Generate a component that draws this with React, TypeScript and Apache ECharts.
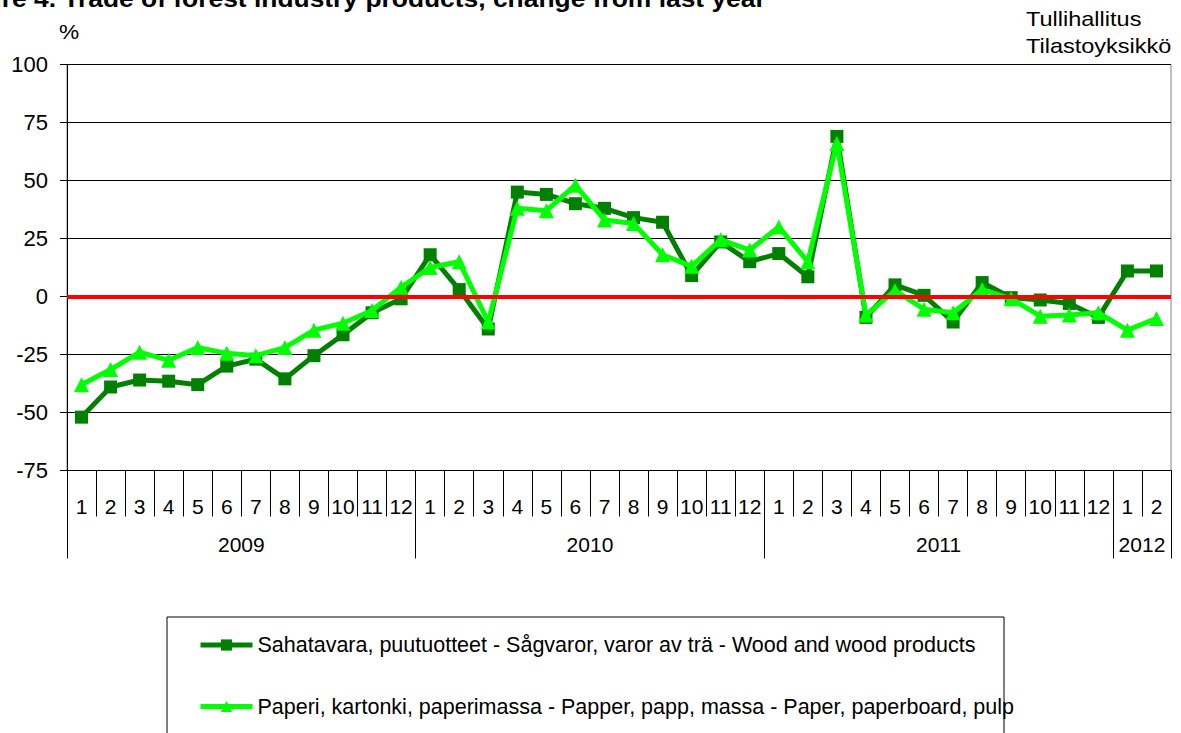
import React, { useEffect, useRef } from "react";
import * as echarts from "echarts";

const months: string[] = [
  "1","2","3","4","5","6","7","8","9","10","11","12",
  "1","2","3","4","5","6","7","8","9","10","11","12",
  "1","2","3","4","5","6","7","8","9","10","11","12",
  "1","2",
];

const yearLabels: string[] = ["2009", "2010", "2011", "2012"];
const yearStart: number[] = [0, 12, 24, 36];
const yearLength: number[] = [12, 12, 12, 2];

const woodName = "Sahatavara, puutuotteet - Sågvaror, varor av trä - Wood and wood products";
const paperName = "Paperi, kartonki, paperimassa - Papper, papp, massa - Paper, paperboard, pulp";

const woodValues: number[] = [
  -52, -39, -36, -36.5, -38, -30, -27, -35.5, -25.5, -16.5, -7, -1,
  18, 3, -14, 45, 44, 40, 38, 34, 32, 9, 23.5, 15,
  18.5, 8.5, 69, -9, 5, 0.5, -11, 6, -0.5, -1.5, -3, -9,
  11, 11,
];

const paperValues: number[] = [
  -38, -31.5, -24, -27.5, -22, -24.5, -25.5, -22, -14.5, -11.5, -6, 4,
  12.5, 15, -11, 38, 37, 48, 33, 31.5, 18, 13, 24.5, 20,
  30, 15, 66, -8, 2.5, -5.5, -7, 3, -1, -8.5, -8, -7,
  -14.5, -9.5,
];

const yTicks = { min: -75, max: 100, interval: 25 };

const FONT = "'Liberation Sans', Arial, Helvetica, sans-serif";

export default function App() {
  const ref = useRef<HTMLDivElement>(null);

  useEffect(() => {
    if (!ref.current) return;
    const chart = echarts.init(ref.current, null, { renderer: "svg" });

    const yearCenters = yearLabels.map((_, i) => yearStart[i] + yearLength[i] / 2);

    const option: any = {
      animation: false,
      backgroundColor: "#ffffff",
      textStyle: { fontFamily: FONT, color: "#000" },
      grid: {
        left: 67,
        right: 10,
        top: 64.5,
        bottom: 262.5,
        containLabel: false,
        show: true,
        borderColor: "#808080",
        borderWidth: 1,
      },
      xAxis: [
        {
          type: "category",
          data: months,
          boundaryGap: true,
          position: "bottom",
          axisLine: { show: true, onZero: false, lineStyle: { color: "#000", width: 1 } },
          axisTick: { show: true, interval: 0, length: 46, lineStyle: { color: "#000", width: 1 } },
          axisLabel: { interval: 0, fontSize: 21, color: "#000", margin: 25, fontFamily: FONT },
          splitLine: { show: false },
        },
        {
          type: "category",
          data: months,
          boundaryGap: true,
          position: "bottom",
          axisLine: { show: false, onZero: false },
          axisTick: {
            show: true,
            interval: (i: number) => yearStart.indexOf(i) >= 0,
            length: 88,
            lineStyle: { color: "#000", width: 1 },
          },
          axisLabel: { show: false },
          splitLine: { show: false },
        },
        {
          type: "value",
          min: 0,
          max: months.length,
          interval: 1,
          position: "bottom",
          axisLine: { show: false, onZero: false },
          axisTick: { show: false },
          splitLine: { show: false },
          axisLabel: {
            show: true,
            fontSize: 21,
            color: "#000",
            fontFamily: FONT,
            margin: 63,
            showMinLabel: true,
            showMaxLabel: true,
            formatter: (v: number) => {
              const idx = yearCenters.findIndex((c) => Math.abs(c - v) < 1e-6);
              return idx >= 0 ? yearLabels[idx] : "";
            },
          },
        },
      ],
      yAxis: {
        type: "value",
        min: yTicks.min,
        max: yTicks.max,
        interval: yTicks.interval,
        axisLine: { show: true, lineStyle: { color: "#000", width: 1 } },
        axisTick: { show: true, length: 7, lineStyle: { color: "#000" } },
        axisLabel: { fontSize: 22, color: "#000", margin: 19, fontFamily: FONT },
        splitLine: { show: true, lineStyle: { color: "#000", width: 1 } },
      },
      legend: {
        orient: "vertical",
        left: 167,
        top: 617,
        height: 400,
        data: [woodName, paperName],
        itemWidth: 52,
        itemHeight: 14,
        itemGap: 39.5,
        padding: [17, -10, 40, 31],
        borderColor: "#000",
        borderWidth: 1,
        backgroundColor: "rgba(255,255,255,0)",
        lineStyle: { width: 5 },
        textStyle: { fontSize: 21.5, color: "#000", fontFamily: FONT },
      },
      graphic: [
        {
          type: "text",
          x: -54,
          y: -1.5,
          scaleX: 1.1,
          style: {
            text: "Figure 4. Trade of forest industry products, change from last year",
            font: `bold 24px ${FONT}`,
            fill: "#000",
            verticalAlign: "middle",
          },
        },
        {
          type: "text",
          x: 59,
          y: 32,
          scaleX: 1.08,
          style: { text: "%", font: `21px ${FONT}`, fill: "#000", verticalAlign: "middle" },
        },
        {
          type: "text",
          x: 1026,
          y: 19,
          scaleX: 1.12,
          style: { text: "Tullihallitus", font: `21px ${FONT}`, fill: "#000", verticalAlign: "middle" },
        },
        {
          type: "text",
          x: 1026,
          y: 45.5,
          scaleX: 1.12,
          style: { text: "Tilastoyksikkö", font: `21px ${FONT}`, fill: "#000", verticalAlign: "middle" },
        },
      ],
      series: [
        {
          name: "zero",
          type: "line",
          data: [],
          z: 1,
          silent: true,
          markLine: {
            silent: true,
            symbol: "none",
            label: { show: false },
            lineStyle: { color: "#ff0000", width: 4, type: "solid" },
            data: [{ yAxis: 0 }],
          },
        },
        {
          name: woodName,
          type: "line",
          xAxisIndex: 0,
          data: woodValues,
          z: 3,
          symbol: "rect",
          symbolSize: 13,
          showAllSymbol: true,
          lineStyle: { color: "#008000", width: 5 },
          itemStyle: { color: "#008000" },
        },
        {
          name: paperName,
          type: "line",
          xAxisIndex: 0,
          data: paperValues,
          z: 4,
          symbol: "triangle",
          symbolSize: 15,
          showAllSymbol: true,
          lineStyle: { color: "#00ff00", width: 5 },
          itemStyle: { color: "#00ff00" },
        },
      ],
    };

    chart.setOption(option);
    return () => chart.dispose();
  }, []);

  return (
    <div
      ref={ref}
      style={{ position: "absolute", left: 0, top: 0, width: 1181, height: 733, background: "#fff" }}
    />
  );
}
